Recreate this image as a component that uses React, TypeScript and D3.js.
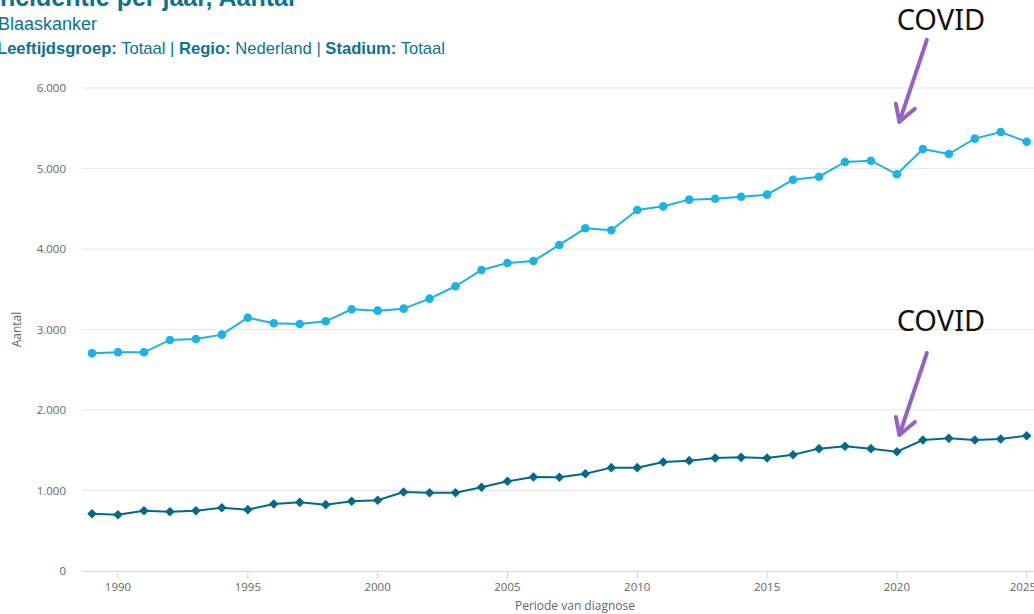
import React from "react";
import * as d3 from "d3";

const years: number[] = d3.range(1989, 2026);
const totaalValues: number[] = [
  2704, 2717, 2717, 2870, 2882, 2936, 3147, 3077, 3068, 3102,
  3251, 3234, 3259, 3383, 3537, 3739, 3826, 3851, 4050, 4257,
  4232, 4484, 4530, 4613, 4625, 4650, 4675, 4861, 4898, 5081,
  5097, 4928, 5242, 5180, 5371, 5453, 5333,
];
const tweedeValues: number[] = [
  712, 699, 749, 737, 749, 786, 762, 832, 853, 824,
  866, 878, 981, 973, 973, 1040, 1114, 1168, 1164, 1209,
  1284, 1284, 1354, 1371, 1404, 1412, 1404, 1445, 1520, 1549,
  1520, 1482, 1627, 1648, 1627, 1640, 1681,
];
const yTicks: number[] = [0, 1000, 2000, 3000, 4000, 5000, 6000];
const xTicks: number[] = [1990, 1995, 2000, 2005, 2010, 2015, 2020, 2025];
const annotations = [
  { label: "COVID", year: 2020, tipValue: 5580, textValue: 6720 },
  { label: "COVID", year: 2020, tipValue: 1690, textValue: 2980 },
];

const W = 1034;
const H = 614;
const teal = "#0b7390";
const lightBlue = "#1bb2e8";
const darkTeal = "#02698a";
const purple = "#9362c6";

export default function App() {
  const x = d3.scaleLinear().domain([1990, 2025]).range([118, 1026.7]);
  const y = d3.scaleLinear().domain([0, 6000]).range([571, 88]);
  const plotLeft = x(1988.61);
  const fmt = (v: number) => d3.format(",")(v).replace(/,/g, ".");

  const line = d3
    .line<number>()
    .x((_, i) => x(years[i]))
    .y((d) => y(d));

  const diamond = d3.symbol().type(d3.symbolSquare).size(46)() as string;

  return (
    <svg
      width={W}
      height={H}
      style={{ position: "absolute", left: 0, top: 0, background: "#fff" }}
      fontFamily="'Open Sans', sans-serif"
    >
      {/* Titles */}
      <text x={-7} y={6} fontFamily="Arial, 'Liberation Sans', sans-serif" fontSize={25} fontWeight="bold" fill={teal}>
        Incidentie per jaar, Aantal
      </text>
      <text x={-2} y={30} fontFamily="Arial, 'Liberation Sans', sans-serif" fontSize={18} fill={teal}>
        Blaaskanker
      </text>
      <text x={-3} y={54} fontFamily="Arial, 'Liberation Sans', sans-serif" fontSize={16.6} fill={teal}>
        <tspan fontWeight="bold">Leeftijdsgroep:</tspan>
        <tspan> Totaal | </tspan>
        <tspan fontWeight="bold">Regio:</tspan>
        <tspan> Nederland | </tspan>
        <tspan fontWeight="bold">Stadium:</tspan>
        <tspan> Totaal</tspan>
      </text>

      {/* Grid */}
      {yTicks.map((t) => (
        <g key={t}>
          {t !== 0 && (
            <line x1={plotLeft} x2={W} y1={y(t)} y2={y(t)} stroke="#e6e6e6" strokeWidth={1} />
          )}
          <text x={66} y={y(t) + 4} textAnchor="end" fontSize={11.5} fill="#666">
            {fmt(t)}
          </text>
        </g>
      ))}

      {/* X axis */}
      <line x1={plotLeft} x2={W} y1={y(0) + 0.5} y2={y(0) + 0.5} stroke="#ccd6eb" strokeWidth={1} />
      {xTicks.map((t, i) => {
        const last = i === xTicks.length - 1;
        return (
          <g key={t}>
            <line x1={x(t)} x2={x(t)} y1={y(0)} y2={y(0) + 8} stroke="#ccd6eb" strokeWidth={1} />
            <text
              x={last ? W + 2 : x(t)}
              y={y(0) + 20}
              textAnchor={last ? "end" : "middle"}
              fontSize={11.5}
              fill="#666"
            >
              {t}
            </text>
          </g>
        );
      })}
      <text x={x(2007.6)} y={610} textAnchor="middle" fontSize={12} fill="#666">
        Periode van diagnose
      </text>
      <text
        transform={`translate(21, ${y(3000)}) rotate(-90)`}
        textAnchor="middle"
        fontSize={12}
        fill="#666"
      >
        Aantal
      </text>

      {/* Series */}
      <path d={line(totaalValues) || ""} fill="none" stroke={lightBlue} strokeWidth={2} />
      {totaalValues.map((v, i) => (
        <circle key={i} cx={x(years[i])} cy={y(v)} r={4.3} fill={lightBlue} />
      ))}
      <path d={line(tweedeValues) || ""} fill="none" stroke={darkTeal} strokeWidth={2} />
      {tweedeValues.map((v, i) => (
        <path
          key={i}
          d={diamond}
          transform={`translate(${x(years[i])},${y(v)}) rotate(45)`}
          fill={darkTeal}
        />
      ))}

      {/* Annotations */}
      {annotations.map((a, i) => {
        const tx = x(a.year) + 2.5;
        const ty = y(a.tipValue);
        const sx = tx + 27.5;
        const sy = ty - 82;
        return (
          <g key={i}>
            <line x1={sx} y1={sy} x2={tx} y2={ty} stroke={purple} strokeWidth={4} strokeLinecap="round" />
            <polyline
              points={`${tx - 3.5},${ty - 18} ${tx},${ty} ${tx + 15.5},${ty - 13}`}
              fill="none"
              stroke={purple}
              strokeWidth={4}
              strokeLinecap="round"
              strokeLinejoin="round"
            />
            <text
              x={x(a.year) + 44}
              y={y(a.textValue)}
              textAnchor="middle"
              fontFamily="'Noto Sans', 'Open Sans', sans-serif"
              fontSize={29}
              fill="#111"
            >
              {a.label}
            </text>
          </g>
        );
      })}
    </svg>
  );
}
